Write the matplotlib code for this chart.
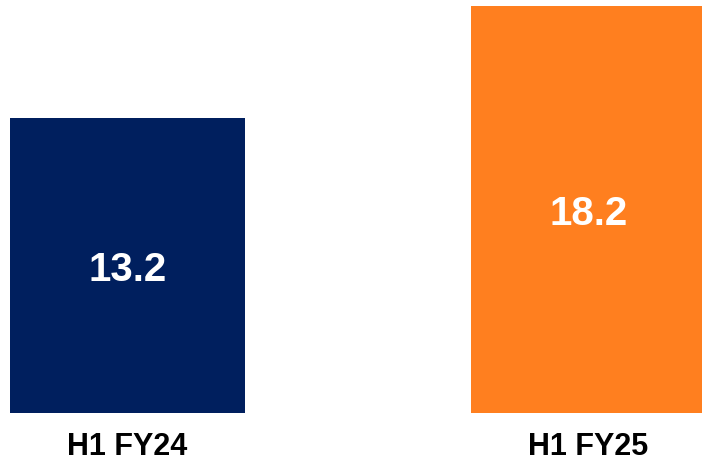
import matplotlib
matplotlib.use('Agg')
import matplotlib.pyplot as plt

categories = ['H1 FY24', 'H1 FY25']
values = [13.2, 18.2]
colors = ['#001F5E', '#FF7F1F']

plt.rcParams['font.family'] = ['Liberation Sans', 'DejaVu Sans']

fig = plt.figure(figsize=(7.02, 4.65), dpi=100)
ax = fig.add_axes([0, 52 / 465, 1, 413 / 465])

x = [0, 1]
bars = ax.bar(x, values, width=0.51, color=colors)

for b, v in zip(bars, values):
    ax.text(b.get_x() + b.get_width() / 2, v / 2, str(v), ha='center', va='center_baseline',
            color='white', fontsize=29, fontweight='bold')

ax.set_xlim(-0.2766, 1.2462)
ax.set_ylim(0, 18.48)
ax.set_xticks(x)
ax.set_xticklabels(categories, fontsize=22, fontweight='bold')
ax.tick_params(axis='x', length=0, pad=14)
ax.set_yticks([])
for s in ax.spines.values():
    s.set_visible(False)

plt.savefig('out.png', dpi=100)
